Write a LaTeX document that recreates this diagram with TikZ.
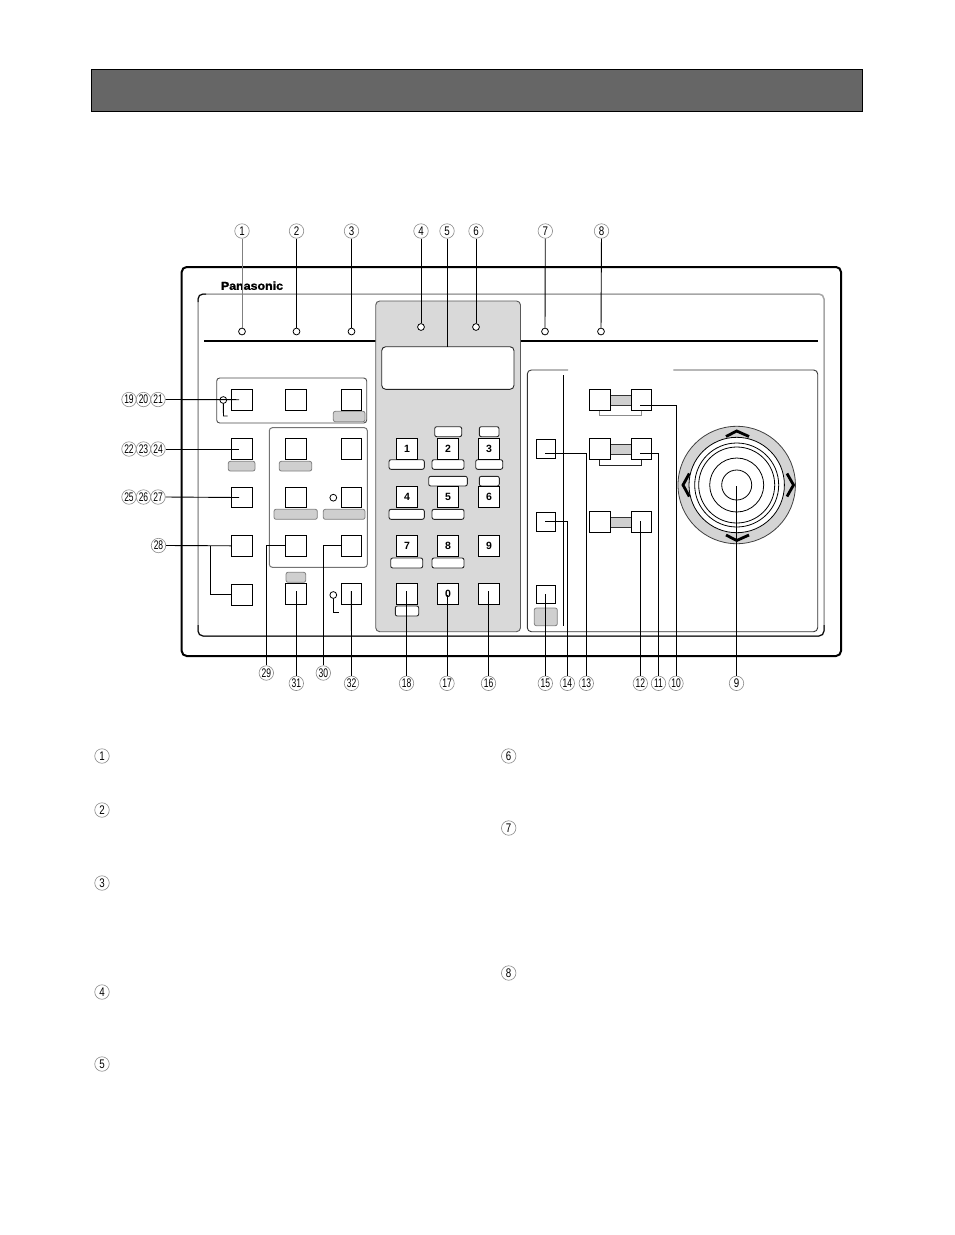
\documentclass[tikz,border=0pt]{standalone}
\usepackage{graphicx}
\usepackage{fontspec}
\setmainfont{Liberation Sans}
\definecolor{panelg}{HTML}{D9D9D9}
\definecolor{keyg}{HTML}{CFCFCF}
\definecolor{barg}{HTML}{666666}
\definecolor{rimg}{HTML}{A6A6A6}
\definecolor{ringg}{HTML}{D4D4D4}
\tikzset{
  box/.style={rectangle,inner sep=0pt,outer sep=0pt,anchor=north west},
  btn/.style={box,draw=black,line width=1pt,fill=white,font=\bfseries\fontsize{10.5}{12}\selectfont},
  keyw/.style={box,draw=black!85,line width=.9pt,fill=white,rounded corners=2pt},
  keyd/.style={box,draw=black!50,line width=.8pt,fill=keyg,rounded corners=2pt},
  barb/.style={box,draw=black!80,line width=.7pt,fill=keyg},
  led/.style={circle,draw=black,line width=.8pt,fill=white,inner sep=0pt,minimum size=6.8pt},
  numc/.style={circle,draw=black!45,line width=.6pt,fill=white,inner sep=0pt,minimum size=14.5pt,font=\fontsize{12.5}{13}\selectfont},
  ldr/.style={draw=black,line width=.9pt},
  ring/.style={circle,draw=black,line width=.8pt,inner sep=0pt},
  chev/.style={draw=black,line width=2.8pt,miter limit=2},
}
\newcommand{\rb}[6]{\node[#2,minimum width={(#5-#3)*1pt},minimum height={(#6-#4)*1pt}] (#1) at (#3,#4) {};}
\newcommand{\kb}[6]{\node[btn,minimum width={(#4)*1pt},minimum height={(#5)*1pt}] (#1) at (#2,#3) {\raisebox{.5pt}{#6}};}
\newcommand{\nm}[4]{\node[numc] (#1) at (#2,#3) {\scalebox{.78}[1]{#4}};}
\newcommand{\nn}[4]{\node[numc] (#1) at (#2,#3) {\scalebox{.68}[1]{#4}};}
\begin{document}
\begin{tikzpicture}[x=1pt,y=-1pt]
\useasboundingbox (0,0) rectangle (954,1235);
\fill[white] (0,0) rectangle (954,1235);
% header bar
\rb{hdr}{box,draw=black,line width=.9pt,fill=barg}{91.5}{69.5}{862.5}{111.5}
% body
\draw[draw=black,line width=2pt,rounded corners=5pt] (181.7,267) rectangle (841,656);
\node[font=\bfseries\fontsize{11.5}{12}\selectfont\addfontfeature{FakeBold=1.2},inner sep=0pt] (logo) at (252,285.7) {\scalebox{1.08}[1]{Panasonic}};
\draw[draw=rimg,line width=1.5pt,rounded corners=5pt] (198,294) rectangle (824,636);
\draw[black,line width=1pt,rounded corners=5pt] (198,625) -- (198,636) -- (824,636) -- (824,625);
\draw[black,line width=1pt,rounded corners=5pt] (198,302) -- (198,294) -- (206,294);
\coordinate (railL) at (204,341);
\coordinate (railR) at (818,341);
\draw[black,line width=2pt] (railL) -- (railR);
% centre panel
\rb{cpanel}{box,draw=black!65,line width=.9pt,fill=panelg,rounded corners=4pt}{375.7}{301}{520.5}{631.7}
\rb{disp}{keyw,rounded corners=4pt}{381.7}{346.7}{514}{389.3}
% groups
\rb{grp1}{box,draw=black!70,line width=.9pt,rounded corners=3pt}{216.7}{378}{366.7}{423}
\rb{grp2}{box,draw=black!55,line width=1pt,rounded corners=3pt}{269.3}{427.7}{367.3}{567.3}
% small labels under keys, grey
\rb{g1}{keyd}{333.3}{411.3}{365}{421.7}
\rb{g2}{keyd}{228.3}{461.3}{255}{471}
\rb{g3}{keyd}{279.3}{461.3}{311.7}{471}
\rb{g4}{keyd}{274}{509.3}{317.3}{519.3}
\rb{g5}{keyd}{323.3}{509.3}{365}{519.3}
\rb{g6}{keyd}{286}{572.3}{305.7}{582.3}
% small labels, white
\rb{w1}{keyw}{389}{459.7}{424.3}{469.3}
\rb{w2}{keyw}{432}{459.7}{464}{469.3}
\rb{w3}{keyw}{475.7}{459.7}{502.7}{469.3}
\rb{w4}{keyw}{434.7}{426.7}{461.7}{436.7}
\rb{w5}{keyw}{479.3}{426.7}{499}{436.7}
\rb{w6}{keyw}{428.7}{476.3}{467.3}{486}
\rb{w7}{keyw}{479.3}{476.3}{499.3}{486}
\rb{w8}{keyw}{389}{509.3}{424.3}{519.3}
\rb{w9}{keyw}{432}{509.3}{464}{519.3}
\rb{w10}{keyw}{390.7}{558}{422.7}{568}
\rb{w11}{keyw}{432}{558}{464}{568}
\rb{w12}{keyw}{395.3}{606}{418.7}{616}
% left buttons
\kb{a1}{231.5}{389.3}{21}{21}{}
\kb{a2}{285.5}{389.3}{21}{21}{}
\kb{a3}{341.3}{389.3}{20.4}{21}{}
\kb{b1}{231.5}{438.3}{21}{21}{}
\kb{b2}{285.5}{438.3}{21}{21}{}
\kb{b3}{341.3}{438.3}{20.4}{21}{}
\kb{c1}{231.5}{487}{21}{20.6}{}
\kb{c2}{285.5}{487}{21}{20.6}{}
\kb{c3}{341.3}{487}{20.4}{20.6}{}
\kb{d1}{231.5}{535.3}{21}{21}{}
\kb{d2}{285.5}{535.3}{21}{21}{}
\kb{d3}{341.3}{535.3}{20.4}{21}{}
\kb{e1}{231.5}{584.3}{21}{21}{}
\kb{e2}{285.5}{583.3}{21}{21.4}{}
\kb{e3}{341.3}{583.3}{20.4}{21.4}{}
% numeric keys
\kb{k1}{396.5}{438.3}{21}{21}{1}
\kb{k2}{437.5}{438.3}{21}{21}{2}
\kb{k3}{478.5}{438.3}{21}{21}{3}
\kb{k4}{396.5}{486.3}{21}{21.4}{4}
\kb{k5}{437.5}{486.3}{21}{21.4}{5}
\kb{k6}{478.5}{486.3}{21}{21.4}{6}
\kb{k7}{396.5}{535.3}{21}{21}{7}
\kb{k8}{437.5}{535.3}{21}{21}{8}
\kb{k9}{478.5}{535.3}{21}{21}{9}
\kb{kx}{396.5}{583.3}{21}{21.4}{}
\kb{k0}{437.5}{583.3}{21}{21.4}{0}
\kb{ky}{478.5}{583.3}{21}{21.4}{}
% LEDs
\node[led] (l1) at (242,331.5) {};
\node[led] (l2) at (296.5,331.5) {};
\node[led] (l3) at (351.5,331.5) {};
\node[led] (l4) at (421,327) {};
\node[led] (l6) at (476,327) {};
\node[led] (l7) at (545,331.5) {};
\node[led] (l8) at (601,331.5) {};
\node[led] (la) at (223.3,400) {};
\node[led] (lb) at (333.3,497.7) {};
\node[led] (lc) at (333.3,595) {};
\draw[black,line width=.9pt] (la.south) -- (223.5,416) -- (227.5,416);
\draw[black,line width=.9pt] (lc.south) -- (333.3,612) -- (339,612);
% control box
\draw[black!80,line width=.9pt,rounded corners=4pt] (568,370) -- (527.3,370) -- (527.3,631.7) -- (817.7,631.7) -- (817.7,370) -- (673.3,370);
\coordinate (rTop) at (563.3,375);
\coordinate (rBot) at (563.3,625.7);
\rb{gs}{keyd}{534.3}{608}{557.3}{625.7}
\rb{bar1}{barb}{605}{395.3}{635}{405.3}
\rb{bar2}{barb}{605}{444.3}{635}{454.3}
\rb{bar3}{barb}{605}{517.3}{635}{527.3}
\draw[black!45,line width=1pt] (599.3,410) -- (599.3,415) -- (641.7,415) -- (641.7,410);
\draw[black!85,line width=1pt] (599.3,459) -- (599.3,465) -- (641.7,465) -- (641.7,459);
\kb{m1}{536.3}{439.3}{19.4}{19.4}{}
\kb{m2}{536.3}{512.3}{19.4}{19.4}{}
\kb{m3}{536.3}{585.3}{19.4}{18.6}{}
\kb{p1}{589.5}{389.3}{21}{21}{}
\kb{q1}{631.4}{389.3}{20.3}{21}{}
\kb{p2}{589.5}{438.3}{21}{21}{}
\kb{q2}{631.4}{438.3}{20.3}{21}{}
\kb{p3}{589.5}{511.3}{21}{21}{}
\kb{q3}{631.4}{511.3}{20.3}{21}{}
% joystick
\node[ring,draw=black!75,fill=ringg,minimum size=117.4pt] (j0) at (736.7,485) {};
\node[ring,fill=white,minimum size=95.4pt] (j1) at (736.7,485) {};
\node[ring,minimum size=84pt] (j2) at (736.7,485) {};
\node[ring,minimum size=76pt] (j3) at (736.7,485) {};
\node[ring,minimum size=54pt] (j4) at (736.7,485) {};
\node[ring,minimum size=30pt] (j5) at (736.7,485) {};
\draw[chev] (726,436.5) -- (736.7,431) -- (749,436.5);
\draw[chev] (726,535) -- (736.7,540.5) -- (749,535);
\draw[chev] (689.3,473.5) -- (683,485) -- (689.3,496.5);
\draw[chev] (787,473.5) -- (793.5,485) -- (787,496.5);
% number labels, top
\nm{n1}{242}{231}{1}
\nm{n2}{296.5}{231}{2}
\nm{n3}{351.5}{231}{3}
\nm{n4}{421}{231}{4}
\nm{n5}{447}{231}{5}
\nm{n6}{476}{231}{6}
\nm{n7}{545.3}{231}{7}
\nm{n8}{601.5}{231}{8}
% left
\nn{n19}{129}{399.5}{19}
\nn{n20}{143.5}{399.5}{20}
\nn{n21}{158}{399.5}{21}
\nn{n22}{129}{449}{22}
\nn{n23}{143.5}{449}{23}
\nn{n24}{158}{449}{24}
\nn{n25}{129}{497}{25}
\nn{n26}{143.5}{497}{26}
\nn{n27}{158}{497}{27}
\nn{n28}{158.5}{545.5}{28}
% bottom
\nn{n29}{266.3}{673}{29}
\nn{n30}{323.3}{673}{30}
\nn{n31}{296.3}{683.3}{31}
\nn{n32}{351.5}{683.3}{32}
\nn{n18}{406.5}{683.3}{18}
\nn{n17}{447}{683.3}{17}
\nn{n16}{488.5}{683.3}{16}
\nn{n15}{545.3}{683.3}{15}
\nn{n14}{567.3}{683.3}{14}
\nn{n13}{586.3}{683.3}{13}
\nn{n12}{640.3}{683.3}{12}
\nn{n11}{658.5}{683.3}{11}
\nn{n10}{676}{683.3}{10}
\nm{n9}{736.5}{683.3}{9}
% text list numbers
\nm{t1}{102}{756}{1}
\nm{t2}{102}{810}{2}
\nm{t3}{102}{883}{3}
\nm{t4}{102}{992}{4}
\nm{t5}{102}{1064}{5}
\nm{t6}{508.7}{756}{6}
\nm{t7}{508.7}{828}{7}
\nm{t8}{508.7}{973}{8}
% leaders, top
\draw[draw=black!50,line width=.9pt] (n1) -- (l1);
\draw[ldr] (n2) -- (l2);
\draw[ldr] (n3) -- (l3);
\draw[ldr] (n4) -- (l4);
\coordinate (e5) at (447,347);
\draw[ldr] (n5) -- (e5);
\draw[ldr] (n6) -- (l6);
\draw[ldr] (n7) -- (l7);
\draw[ldr] (n8) -- (l8);
% leaders, left
\coordinate (ea1) at (239,399.7);
\coordinate (eb1) at (239,449);
\coordinate (ec1) at (239,497.5);
\draw[ldr] (n21.east) -- (ea1);
\draw[ldr] (n24.east) -- (eb1);
\draw[ldr] (n27.east) -- (ec1);
\draw[ldr] (n28.east) -- (d1.west);
\coordinate (br) at (210.7,545.8);
\draw[ldr] (br) |- (e1.west);
% leaders, bottom
\coordinate (e2x) at (266.3,545.8);
\coordinate (e3x) at (323.3,545.8);
\draw[ldr] (n29.north) -- (e2x) -- (d2.west);
\draw[ldr] (n30.north) -- (e3x) -- (d3.west);
\coordinate (e31) at (296.3,591);
\coordinate (e32) at (351.4,591);
\coordinate (e18) at (406.5,591);
\coordinate (e17) at (447,595);
\coordinate (e16) at (488.5,591);
\draw[ldr] (n31.north) -- (e31);
\draw[ldr] (n32.north) -- (e32);
\draw[ldr] (n18.north) -- (e18);
\draw[ldr] (n17.north) -- (e17);
\draw[ldr] (n16.north) -- (e16);
\coordinate (e15) at (545.3,594);
\draw[ldr] (n15.north) -- (e15);
\coordinate (e14c) at (567.3,521);
\coordinate (e14) at (545,521);
\draw[ldr] (n14.north) -- (e14c) -- (e14);
\coordinate (e13c) at (586.3,453.5);
\coordinate (e13) at (545,453.5);
\draw[ldr] (n13.north) -- (e13c) -- (e13);
\coordinate (e12) at (640.3,521);
\draw[ldr] (n12.north) -- (e12);
\coordinate (e11c) at (658.5,453.5);
\coordinate (e11) at (640,453.5);
\draw[ldr] (n11.north) -- (e11c) -- (e11);
\coordinate (e10c) at (676,405.3);
\coordinate (e10) at (640,405.3);
\draw[ldr] (n10.north) -- (e10c) -- (e10);
\coordinate (e9) at (736.5,486);
\draw[ldr] (n9.north) -- (e9);
\draw[ldr] (rTop) -- (rBot);
\end{tikzpicture}
\end{document}
